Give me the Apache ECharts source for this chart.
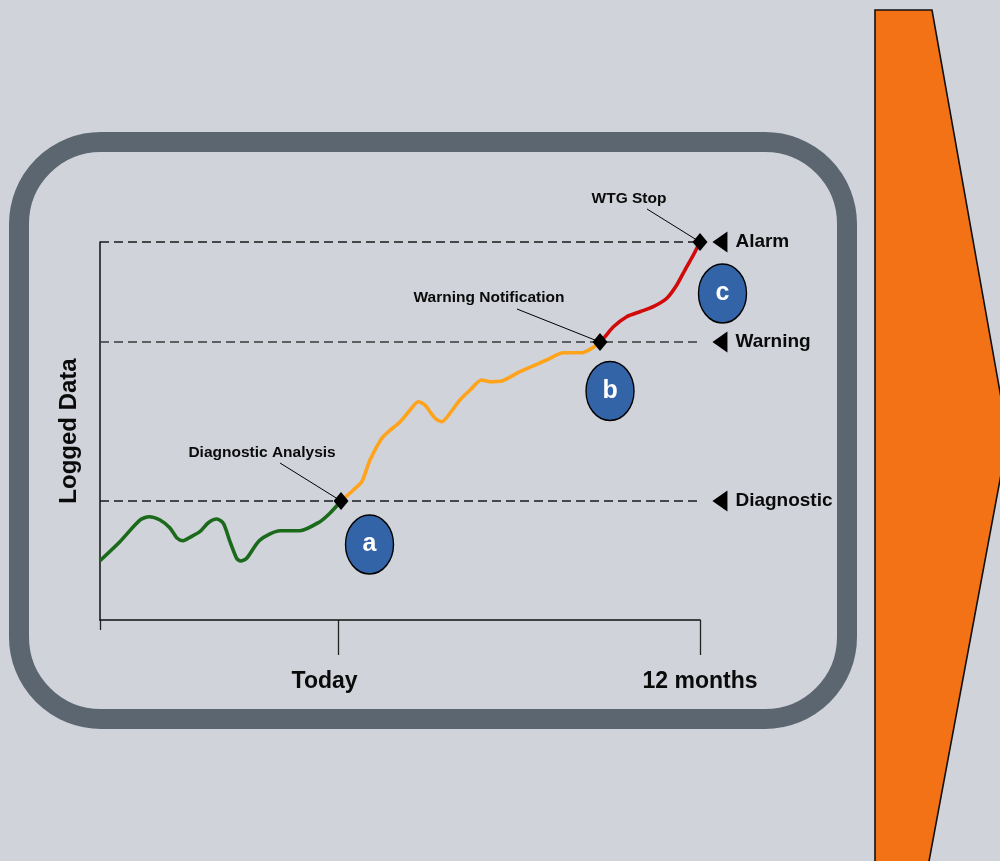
<!DOCTYPE html>
<html><head><meta charset="utf-8">
<script src="https://cdn.jsdelivr.net/npm/echarts@6/dist/echarts.min.js"></script>
<style>html,body{margin:0;padding:0;background:#d0d3da;}#c{width:1000px;height:861px;}</style>
</head><body><div id="c"></div>
<script>
// ---- data (x: months relative to today, y: logged data level 0..100) ----
const xMin = -7.89, xMax = 12;
const greenData = [[-7.89,15.69],[-7.23,20.71],[-6.56,26.46],[-6.26,27.33],[-5.90,26.46],[-5.57,24.34],[-5.33,21.61],[-5.13,20.98],[-4.91,21.88],[-4.58,23.36],[-4.30,25.74],[-4.02,26.72],[-3.80,25.58],[-3.58,20.71],[-3.36,16.32],[-3.23,15.61],[-3.03,16.32],[-2.59,21.16],[-1.92,23.62],[-1.26,23.62],[-0.60,26.01],[-0.27,28.23],[0.10,31.48]];
const orangeData = [[0.10,31.48],[0.51,34.39],[0.79,36.59],[1.06,42.33],[1.45,48.07],[1.67,49.81],[2.06,52.46],[2.39,55.56],[2.66,57.75],[2.88,56.88],[3.22,53.36],[3.44,52.46],[3.71,54.68],[4.04,58.20],[4.38,60.85],[4.76,63.49],[5.04,63.04],[5.43,63.23],[6.03,65.69],[6.92,68.78],[7.47,70.71],[8.08,70.71],[8.41,71.88],[8.685,73.54]];
const redData = [[8.685,73.54],[8.85,74.95],[9.13,77.59],[9.57,80.24],[10.01,81.56],[10.45,82.88],[10.90,85.11],[11.23,88.62],[11.50,92.59],[11.78,96.56],[12.0,100]];
const thresholdNames = ['Alarm','Warning','Diagnostic'];
const thresholdValues = [100, 73.54, 31.48];
const thresholdEnds = [12, 12.2, 12.2];
const thresholdMarkerX = 12.66;
const eventNames = ['Diagnostic Analysis','Warning Notification','WTG Stop'];
const eventPoints = [[0.10,31.48],[8.685,73.54],[12,100]];
const phaseLetters = ['a','b','c'];
const phasePoints = [[1.044,19.97],[9.017,60.58],[12.746,86.38]];
const xTickValues = [0, 12];
const xTickLabels = ['Today','12 months'];
const xLabelPositions = [-0.444, 12];
const yAxisName = 'Logged Data';

// ---- styles ----
const FONT = "'Liberation Sans', Arial, sans-serif";
const eventLabelOffsets = [ {tx:-79,ty:-48,lx:-61,ly:-38}, {tx:-111,ty:-44,lx:-83,ly:-33}, {tx:-71,ty:-43,lx:-53,ly:-33} ];

const chart = echarts.init(document.getElementById('c'), null, {renderer:'canvas'});

const backgroundGraphics = [
  { type:'polygon', z:-10, shape:{ points:[[875,10],[932,10],[1008,437],[927,872],[875,872]] },
    style:{ fill:'#f47216', stroke:'#111', lineWidth:1.6 } },
  { type:'rect', z:-10, shape:{ x:19, y:142, width:828, height:577, r:82 },
    style:{ fill:'none', stroke:'#5c6671', lineWidth:20 } }
];

const series = [];
thresholdValues.forEach((v,i)=>{
  series.push({ type:'line', name:'th'+i, data:[[xMin,v],[thresholdEnds[i],v]], clip:false, silent:true,
    symbol:'none', z:2, lineStyle:{ color: i===1 ? '#3a3a3a' : '#1a1a1a', width:1.3, type:[9,5] } });
});
series.push({ type:'line', data:greenData, smooth:0.25, showSymbol:false, symbol:'none', z:4,
  lineStyle:{ color:'#1b6a1b', width:3.6 } });
series.push({ type:'line', data:orangeData, smooth:0.25, showSymbol:false, symbol:'none', z:4,
  lineStyle:{ color:'#ffa31a', width:3.6 } });
series.push({ type:'line', data:redData, smooth:0.25, showSymbol:false, symbol:'none', z:4,
  lineStyle:{ color:'#d10a0a', width:3.6 } });
series.push({ type:'scatter', clip:false, silent:true, z:5,
  data: thresholdValues.map((v,i)=>({ name:thresholdNames[i], value:[thresholdMarkerX, v] })),
  symbol:'triangle', symbolRotate:90, symbolSize:[21,15], itemStyle:{ color:'#000', opacity:1 },
  label:{ show:true, position:'right', distance:8, formatter:'{b}', color:'#0a0a0a', opacity:1,
    fontFamily:FONT, fontWeight:'bold', fontSize:19 } });
series.push({ type:'scatter', clip:false, silent:true, z:6, data:eventPoints,
  symbol:'diamond', symbolSize:[15,18], itemStyle:{ color:'#000', opacity:1 } });
series.push({ type:'scatter', clip:false, silent:true, z:6,
  data: phasePoints.map((p,i)=>({ name:phaseLetters[i], value:p })),
  symbol:'circle', symbolSize:[48,59],
  itemStyle:{ color:'#3464a8', borderColor:'#000', borderWidth:1.5, opacity:1 },
  label:{ show:true, position:'inside', formatter:'{b}', color:'#fff', opacity:1, fontFamily:FONT, fontWeight:'bold', fontSize:25 } });

const option = {
  backgroundColor:'#d0d3da',
  animation:false,
  graphic: backgroundGraphics,
  grid:{ left:100, right:300, top:242, bottom:241, containLabel:false },
  xAxis:[{
    type:'value', min:xMin, max:xMax, position:'bottom',
    axisLine:{ show:true, onZero:false, lineStyle:{ color:'#111', width:1.5 } },
    axisTick:{ show:true, customValues:xTickValues, length:35, lineStyle:{ color:'#222', width:1.3 } },
    axisLabel:{ show:true, customValues:xLabelPositions, margin:50,
      formatter:(v)=>{ let best=0; xLabelPositions.forEach((p,i)=>{ if(Math.abs(p-v)<Math.abs(xLabelPositions[best]-v)) best=i; }); return xTickLabels[best]; },
      color:'#0a0a0a', fontFamily:FONT, fontWeight:'bold', fontSize:23 },
    splitLine:{ show:false }
  },{
    type:'value', min:xMin, max:xMax, position:'bottom', gridIndex:0,
    axisLine:{ show:false, onZero:false },
    axisTick:{ show:true, customValues:[xMin], length:10, lineStyle:{ color:'#222', width:1.3 } },
    axisLabel:{ show:false }, splitLine:{ show:false }
  }],
  yAxis:{
    type:'value', min:0, max:100,
    axisLine:{ show:true, onZero:false, lineStyle:{ color:'#111', width:1.5 } },
    axisTick:{ show:false }, axisLabel:{ show:false }, splitLine:{ show:false },
    name:yAxisName, nameLocation:'middle', nameRotate:90, nameGap:19,
    nameTextStyle:{ color:'#0a0a0a', fontFamily:FONT, fontWeight:'bold', fontSize:24 }
  },
  series: series
};
chart.setOption(option);

// annotations placed from data positions through the chart's scales
const annot = [];
eventPoints.forEach((p,i)=>{
  const px = chart.convertToPixel({ gridIndex:0 }, p);
  const o = eventLabelOffsets[i];
  annot.push({ type:'line', z:5, shape:{ x1:px[0]+o.lx, y1:px[1]+o.ly, x2:px[0], y2:px[1] },
    style:{ stroke:'#000', lineWidth:1 } });
  annot.push({ type:'text', z:5, style:{ text:eventNames[i], x:px[0]+o.tx, y:px[1]+o.ty,
    align:'center', verticalAlign:'middle', fill:'#0a0a0a', font:"bold 15.5px " + FONT } });
});
chart.setOption({ graphic: backgroundGraphics.concat(annot) });
</script>
</body></html>
